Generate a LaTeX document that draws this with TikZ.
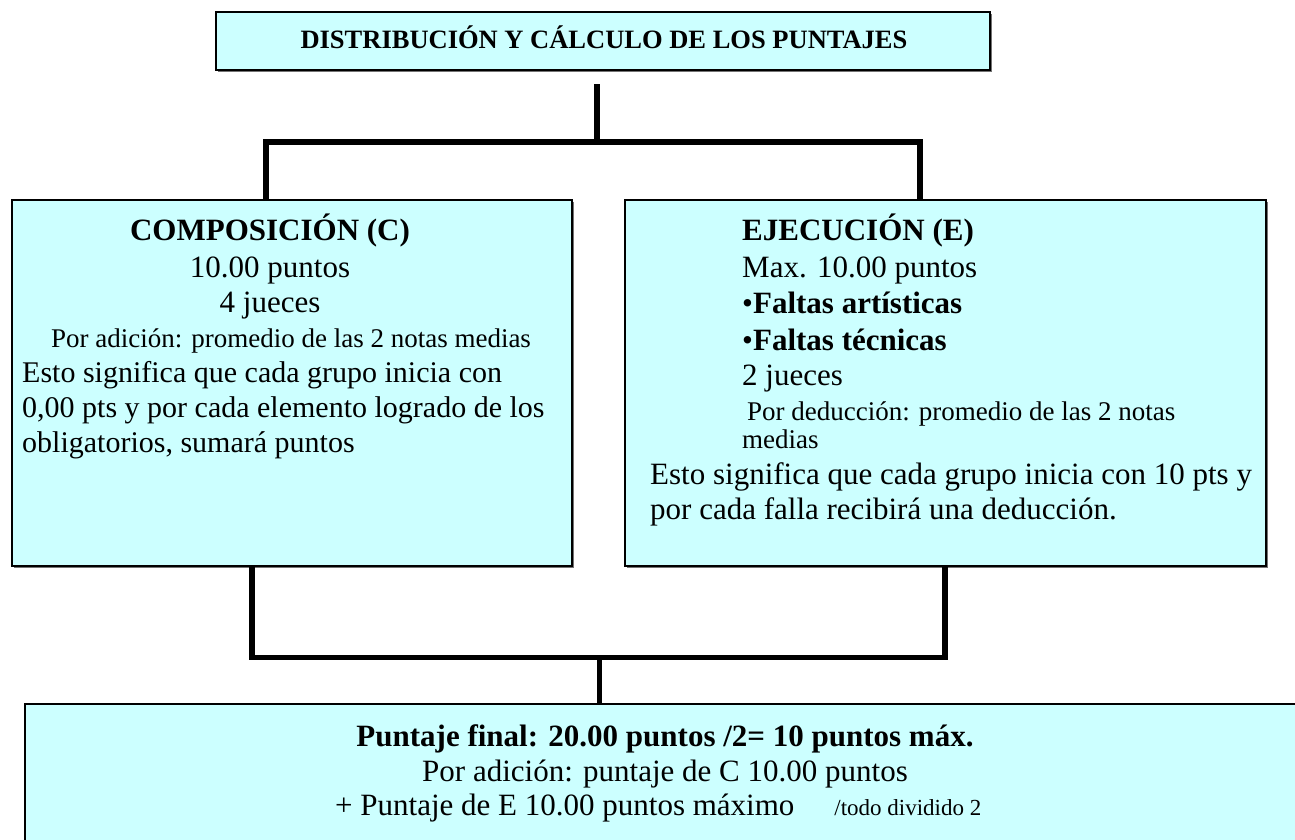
\documentclass[tikz,border=0pt]{standalone}
\usepackage{fontspec}
\setmainfont{Liberation Serif}
\usetikzlibrary{shadows}
\definecolor{boxfill}{HTML}{CCFFFF}
\begin{document}
\begin{tikzpicture}[x=1pt,y=-1pt,
  box/.style={draw=black, line width=1.6pt, fill=boxfill, inner sep=0pt,
    drop shadow={shadow xshift=1.5pt, shadow yshift=-1.5pt, fill=black!55, opacity=1}},
  conn/.style={draw=black, line width=5.5pt, line cap=butt, line join=miter},
  body/.style={inner sep=0pt, font=\fontsize{31}{35}\selectfont},
  bodyl/.style={inner sep=0pt, font=\fontsize{30}{35}\selectfont},
  bodyb/.style={inner sep=0pt, font=\fontsize{31}{35}\selectfont\bfseries},
  small/.style={inner sep=0pt, font=\fontsize{27}{31}\selectfont}]
\useasboundingbox (0,0) rectangle (1295,839);
\clip (0,0) rectangle (1295,839);
\fill[white] (0,0) rectangle (1295,839);

% boxes
\node[box, minimum width=774pt, minimum height=58pt] (title) at (603,41) {};
\node[box, minimum width=560pt, minimum height=366pt] (comp) at (292,383) {};
\node[box, minimum width=641pt, minimum height=366pt] (ejec) at (945.5,383) {};
\node[box, minimum width=1295pt, minimum height=166pt] (final) at (672.5,787) {};

% title text
\node[inner sep=0pt, font=\fontsize{26.5}{30}\selectfont\bfseries, anchor=base] (ttxt) at (604,48)
  {DISTRIBUCIÓN Y CÁLCULO DE LOS PUNTAJES};

% connectors top
\coordinate (tstem) at (597,84);
\coordinate (hubT) at (597,142);
\coordinate (ulc) at (266,142);
\coordinate (urc) at (920,142);
\draw[conn] (tstem) -- (hubT);
\draw[conn] (ulc |- comp.north) -- (ulc) -- (urc) -- (urc |- ejec.north);

% connectors bottom
\coordinate (llc) at (252,657.5);
\coordinate (lrc) at (945,657.5);
\coordinate (hubB) at (599.5,657.5);
\draw[conn] (llc |- comp.south) -- (llc) -- (lrc) -- (lrc |- ejec.south);
\draw[conn] (hubB) -- (hubB |- final.north);

% left box text
\node[bodyb, anchor=base] (c1) at (270,240) {COMPOSICIÓN (C)};
\node[body, anchor=base] (c2) at (270,277) {10.00 puntos};
\node[body, anchor=base] (c3) at (270,312) {4 jueces};
\node[small, anchor=base] (c4) at (291,347) {Por adición: promedio de las 2 notas medias};
\node[bodyl, anchor=base west] (c5) at (22,382) {Esto significa que cada grupo inicia con};
\node[bodyl, anchor=base west] (c6) at (22,417) {0,00 pts y por cada elemento logrado de los};
\node[bodyl, anchor=base west] (c7) at (22,452) {obligatorios, sumará puntos};

% right box text
\node[bodyb, anchor=base west] (e1) at (742,240) {EJECUCIÓN (E)};
\node[body, anchor=base west] (e2) at (742,277) {Max. 10.00 puntos};
\node[bodyb, anchor=base west] (e3) at (742,313) {{\mdseries •}Faltas artísticas};
\node[bodyb, anchor=base west] (e4) at (742,350) {{\mdseries •}Faltas técnicas};
\node[body, anchor=base west] (e5) at (742,385) {2 jueces};
\node[small, anchor=base west] (e6) at (747,420) {Por deducción: promedio de las 2 notas};
\node[small, anchor=base west] (e7) at (742,448) {medias};
\node[body, anchor=base west] (e8) at (650,484) {Esto significa que cada grupo inicia con 10 pts y};
\node[body, anchor=base west] (e9) at (650,519) {por cada falla recibirá una deducción.};

% bottom box text
\node[bodyb, anchor=base] (f1) at (665,746) {Puntaje final: 20.00 puntos /2= 10 puntos máx.};
\node[body, anchor=base] (f2) at (665,781) {Por adición: puntaje de C 10.00 puntos};
\node[body, anchor=base west] (f3) at (335,815) {+ Puntaje de E 10.00 puntos máximo\hspace{40pt}{\fontsize{23}{27}\selectfont /todo dividido 2}};
\end{tikzpicture}
\end{document}
